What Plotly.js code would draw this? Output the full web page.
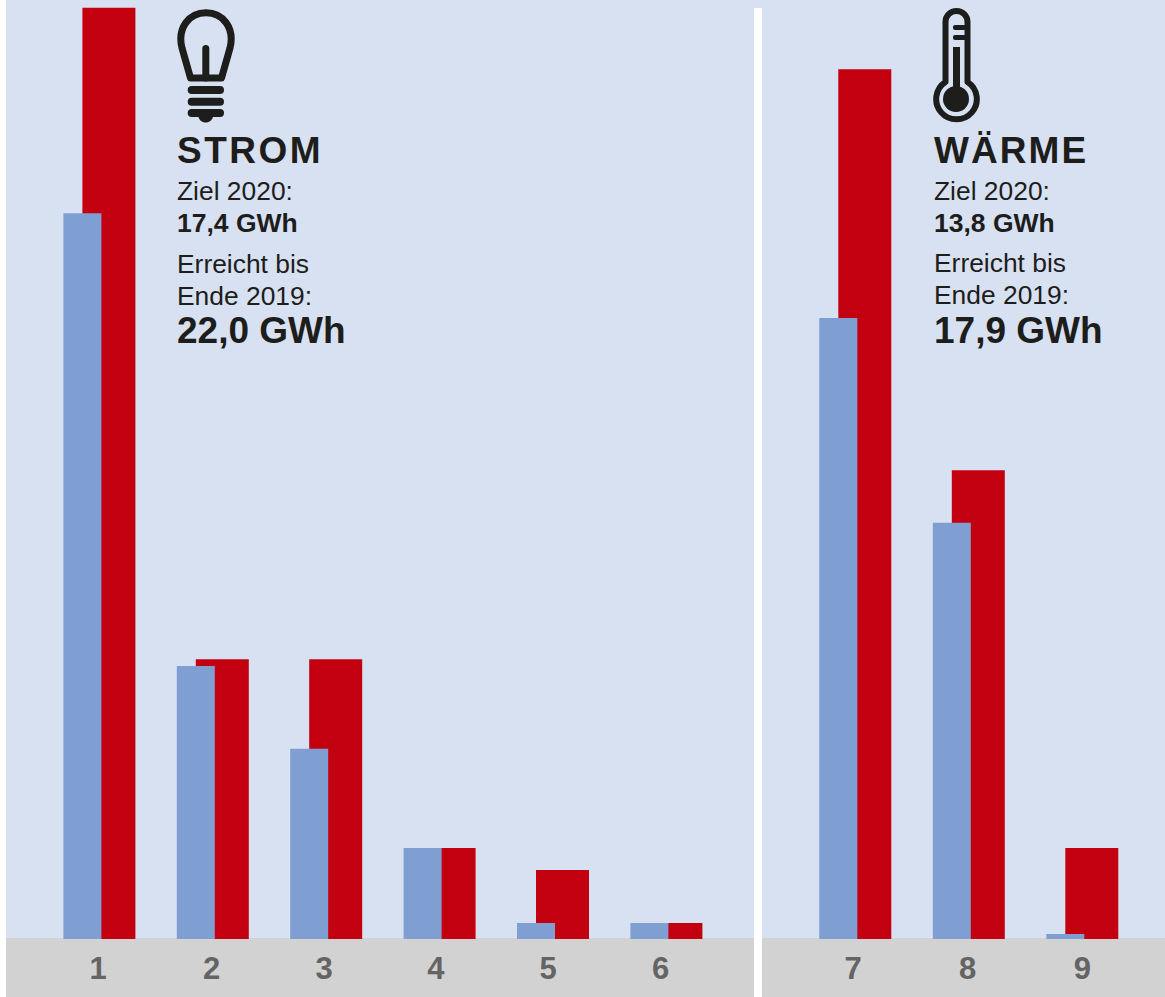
<!DOCTYPE html>
<html lang="de">
<head>
<meta charset="utf-8">
<script src="https://cdn.plot.ly/plotly-3.0.1.min.js"></script>
<style>
html,body{margin:0;padding:0;background:#fff}
#chart{width:1165px;height:997px}
.annotation[data-index="0"] text{letter-spacing:2.5px}
.annotation[data-index="6"] text{letter-spacing:2.05px}
</style>
</head>
<body>
<div id="chart"></div>
<script>
// Data (GWh)
const catsStrom = [1, 2, 3, 4, 5, 6];
const zielStrom = [9.57, 3.6, 2.51, 1.2, 0.21, 0.21];
const erreichtStrom = [12.28, 3.69, 3.69, 1.2, 0.91, 0.21];
const catsWaerme = [7, 8, 9];
const zielWaerme = [8.19, 5.49, 0.066];
const erreichtWaerme = [11.47, 6.18, 1.2];

// The printed numerals do not sit exactly under their bars
const labelPosStrom = [0.988, 1.99, 2.981, 3.968, 4.958, 5.95];
const labelPosWaerme = [6.98, 7.99, 9.0];
const labelsStrom = ['1','2','3','4','5','6'];
const labelsWaerme = ['7','8','9'];

const textStrom = ['STROM','Ziel 2020:','17,4 GWh','Erreicht bis','Ende 2019:','22,0 GWh'];
const textWaerme = ['WÄRME','Ziel 2020:','13,8 GWh','Erreicht bis','Ende 2019:','17,9 GWh'];

// Styles
const W = 1165, H = 997;
const BG = '#d8e1f2', GREY = '#d2d2d2', RED = '#c30010', BLUE = '#7f9fd3', INK = '#1d1d1b', TICK = '#646464';
const FONT = '"Liberation Sans", Arial, sans-serif';
const pitchL = 113.4, pitchR = 113.5, c1 = 99.4, c7 = 855.3;
const yTop = 939 / 75.83;

function bars(x, y, color, wPx, oPx, pitch, xa) {
  return {type:'bar', x, y, xaxis:xa, yaxis:xa==='x'?'y':'y2',
    width:x.map(()=>wPx/pitch), offset:x.map(()=>oPx/pitch),
    marker:{color, line:{width:0}}, hoverinfo:'skip', showlegend:false};
}
const traces = [
  bars(catsStrom, erreichtStrom, RED, 53, -17, pitchL, 'x'),
  bars(catsStrom, zielStrom, BLUE, 38, -36, pitchL, 'x'),
  bars(catsWaerme, erreichtWaerme, RED, 53, -17, pitchR, 'x2'),
  bars(catsWaerme, zielWaerme, BLUE, 38, -36, pitchR, 'x2')
];

const styles = [[37,true],[26.4,false],[26.5,true],[26.4,false],[26.4,false],[37,true]];
const baseStrom = [163,200,232,273,305,343];
const baseWaerme = [163,200,232,272,304,343];
function notes(lines, x, bases) {
  return lines.map((t,i)=>({
    text:t, showarrow:false, xref:'paper', yref:'paper', xanchor:'left', yanchor:'middle', align:'left',
    x:x/W, y:1-(bases[i]-0.3465*styles[i][0])/H, borderpad:0, borderwidth:0,
    font:{family:FONT, size:styles[i][0], color:INK, weight:styles[i][1]?700:400}
  }));
}

const bulb = `<svg xmlns="http://www.w3.org/2000/svg" width="60" height="116" viewBox="176 8 60 116"><g fill="none" stroke="${INK}" stroke-width="7" stroke-linecap="round" stroke-linejoin="round"><path d="M190.500,78 L182,48 C177,28 189,12.800 206,12.800 C223,12.800 235,28 230,48 L221.500,78 Z"/><path d="M205.800,48.500 L205.800,78"/></g><g fill="none" stroke="${INK}" stroke-width="8" stroke-linecap="round"><path d="M191.700,90 H220"/><path d="M191.700,101.700 H220"/><path d="M191.700,113 H220"/></g><path d="M198,115 H213.500 C213,120 209,122.500 205.800,122.500 C202,122.500 198.500,120 198,115 Z" fill="${INK}"/></svg>`;
const thermo = `<svg xmlns="http://www.w3.org/2000/svg" width="50" height="116" viewBox="931 7 50 116"><path d="M945.500,82 L945.500,22 A11,11 0 0 1 967.500,22 L967.500,82 A20.300,20.300 0 1 1 945.500,82 Z" fill="none" stroke="${INK}" stroke-width="6" stroke-linejoin="round"/><circle cx="956" cy="99" r="13" fill="${INK}"/><rect x="953" y="47" width="7" height="50" fill="${INK}"/><rect x="953" y="25" width="15" height="5" rx="2" fill="${INK}"/><rect x="953" y="35" width="15" height="5" rx="2" fill="${INK}"/></svg>`;
const uri = s => 'data:image/svg+xml;charset=utf-8,' + encodeURIComponent(s);
function icon(svg, x, y, w, h) {
  return {source:uri(svg), xref:'paper', yref:'paper', x:x/W, y:1-y/H, sizex:w/W, sizey:h/H,
    xanchor:'left', yanchor:'top', sizing:'stretch', layer:'above'};
}

const xCommon = {type:'linear', tickmode:'array', showgrid:false, zeroline:false, showline:false, ticks:'', ticklabelstandoff:8,
  tickfont:{family:FONT, size:31, color:TICK, weight:700}, fixedrange:true};
const yCommon = {range:[0,yTop], showgrid:false, zeroline:false, showline:false, showticklabels:false, ticks:'',
  domain:[58/H,1], fixedrange:true};

const layout = {
  width:W, height:H, margin:{l:0,r:0,t:0,b:0}, autosize:false,
  paper_bgcolor:'#ffffff', plot_bgcolor:'rgba(0,0,0,0)', barmode:'overlay', showlegend:false,
  xaxis:Object.assign({}, xCommon, {domain:[6/W,754/W], range:[1+(6-c1)/pitchL,1+(754-c1)/pitchL], anchor:'y',
    tickvals:labelPosStrom, ticktext:labelsStrom}),
  yaxis:Object.assign({}, yCommon, {anchor:'x'}),
  xaxis2:Object.assign({}, xCommon, {domain:[762/W,1], range:[7+(762-c7)/pitchR,7+(1165-c7)/pitchR], anchor:'y2',
    tickvals:labelPosWaerme, ticktext:labelsWaerme}),
  yaxis2:Object.assign({}, yCommon, {anchor:'x2'}),
  shapes:[
    {type:'rect', layer:'below', xref:'paper', yref:'paper', x0:6/W, x1:1, y0:0, y1:1, fillcolor:BG, line:{width:0}},
    {type:'rect', layer:'below', xref:'paper', yref:'paper', x0:6/W, x1:1, y0:0, y1:1-938/H, fillcolor:GREY, line:{width:0}},
    {type:'rect', layer:'below', xref:'paper', yref:'paper', x0:754/W, x1:762/W, y0:0, y1:1-8/H, fillcolor:'#ffffff', line:{width:0}}
  ],
  annotations:[...notes(textStrom,177,baseStrom), ...notes(textWaerme,934,baseWaerme)],
  images:[icon(bulb,176,8,60,116), icon(thermo,931,7,50,116)]
};
Plotly.newPlot('chart', traces, layout, {displayModeBar:false, staticPlot:true});
</script>
</body>
</html>
